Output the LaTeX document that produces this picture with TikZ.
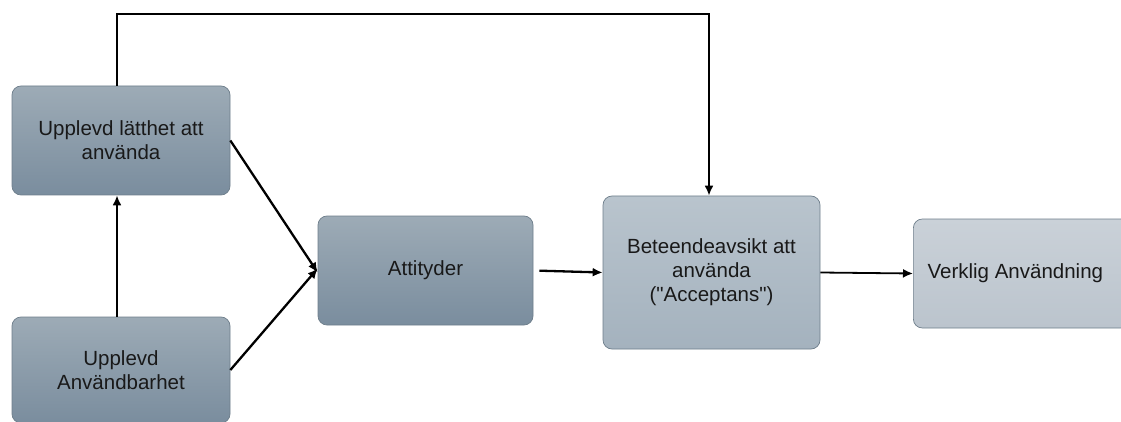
\documentclass[tikz,border=0pt]{standalone}
\usepackage{fontspec}
\setmainfont{Liberation Sans}
\usetikzlibrary{arrows.meta}
\definecolor{bordc}{HTML}{6E7E8B}
\definecolor{darkT}{HTML}{9DABB6}
\definecolor{darkB}{HTML}{7A8D9E}
\definecolor{midT}{HTML}{B9C4CD}
\definecolor{midB}{HTML}{A4B2BE}
\definecolor{liteT}{HTML}{CAD1D8}
\definecolor{liteB}{HTML}{BBC4CD}
\tikzset{
  box/.style={draw=bordc, line width=0.7pt, rounded corners=9pt, inner sep=0pt,
    align=center, font=\fontsize{20.5}{24}\selectfont, text=black!90},
  darkbox/.style={box, top color=darkT, bottom color=darkB},
  midbox/.style={box, top color=midT, bottom color=midB},
  litebox/.style={box, top color=liteT, bottom color=liteB},
  arr/.style={draw=black, line width=2.3pt, -{Latex[length=10pt,width=9pt]}},
}
\begin{document}
\begin{tikzpicture}[x=1pt,y=-1pt]
\useasboundingbox (0,0) rectangle (1121,422);
\node[darkbox, minimum width=218pt, minimum height=109pt] (A) at (121,140.5) {Upplevd lätthet att\\använda};
\node[darkbox, minimum width=218pt, minimum height=106pt] (B) at (121,370) {Upplevd\\Användbarhet};
\node[darkbox, minimum width=215pt, minimum height=109pt] (C) at (425.5,270.5) {Attityder};
\node[midbox, minimum width=217pt, minimum height=153pt] (D) at (711.5,272.5) {Beteendeavsikt att\\använda\\(\textquotedbl Acceptans\textquotedbl)};
\node[litebox, minimum width=216pt, minimum height=109pt, anchor=west] (E) at (913,273.5) {\hspace*{-6pt}Verklig Användning\hspace*{6pt}};
\coordinate (top) at (0,14);
\coordinate (a1) at ([xshift=-4pt]A.north);
\coordinate (d1) at ([xshift=-2.5pt]D.north);
\coordinate (b1) at ([xshift=-4pt]B.north);
\coordinate (a2) at ([xshift=-4pt]A.south);
\draw[arr] (b1) -- (a2);
\draw[arr] (A.east) -- ([yshift=-2pt]C.west);
\draw[arr] (B.east) -- ([yshift=2pt]C.west);
\draw[arr, shorten <=6pt] (C.east) -- (D.west);
\draw[arr, line width=1.8pt] (D.east) -- (E.west);
\draw[arr] (a1) -- (a1 |- top) -| (d1);
\end{tikzpicture}
\end{document}
